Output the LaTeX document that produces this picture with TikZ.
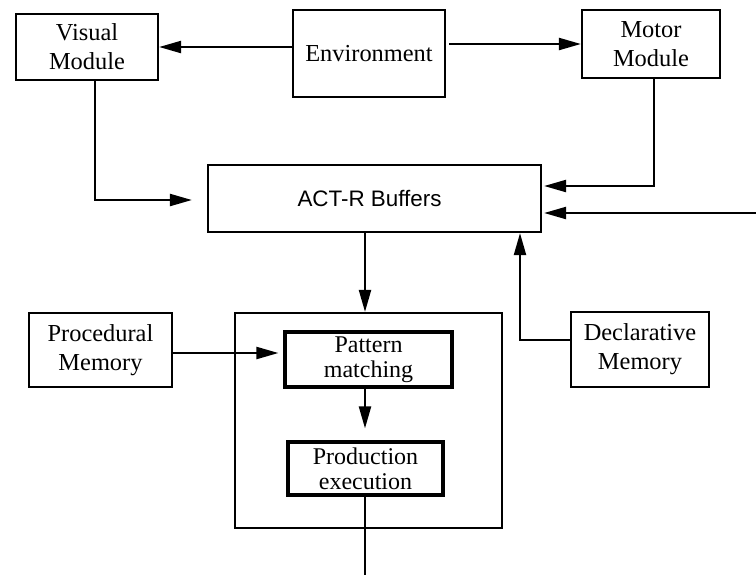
\documentclass[tikz,border=0pt]{standalone}
\usepackage{fontspec}
\setmainfont{Liberation Serif}
\setsansfont{Liberation Sans}
\usetikzlibrary{arrows.meta}
\begin{document}
\begin{tikzpicture}[x=0.5pt,y=-0.5pt,
  box/.style={draw,line width=1.1pt,inner sep=0pt,align=center,
    font=\fontsize{12.2}{14.5}\selectfont},
  inbox/.style={box,line width=1.6pt,font=\fontsize{12}{12.5}\selectfont},
  arr/.style={line width=1.1pt,-{Triangle[length=11pt,width=6pt]}},
  ln/.style={line width=1.1pt}]
\useasboundingbox (0,0) rectangle (756,575);
\fill[white] (0,0) rectangle (756,575);

% top row
\node[box,minimum width=71pt,minimum height=33pt] (vis) at (87,47) {Visual\\Module};
\node[box,minimum width=76pt,minimum height=43.5pt] (env) at (369,53.5) {Environment};
\node[box,minimum width=69pt,minimum height=34pt] (mot) at (651,44) {Motor\\Module};

% buffers
\node[box,minimum width=166.5pt,minimum height=33.5pt,
  font=\sffamily\fontsize{11.2}{13}\selectfont] (buf) at (374.5,198.5) {ACT-R Buffers\hspace*{5pt}};

% production system
\node[draw,line width=1.1pt,minimum width=133.5pt,minimum height=107.5pt,inner sep=0pt] (big) at (368.5,420.5) {};
\node[inbox,minimum width=83.5pt,minimum height=27.5pt] (pat) at (368.5,359.5) {Pattern\\matching};
\node[inbox,minimum width=77.5pt,minimum height=26.5pt] (prod) at (365.5,468.5) {Production\\execution};

% memories
\node[box,minimum width=71.5pt,minimum height=37pt] (proc) at (100.5,350) {Procedural\\Memory};
\node[box,minimum width=69pt,minimum height=37.5pt] (decl) at (640,349.5) {Declarative\\Memory};

% helper points
\coordinate (ax) at (365,0);
\coordinate (ext) at (756,213);
\coordinate (bot) at (365,575);

% connectors
\draw[arr] (env.west |- vis.east) -- (vis.east);
\draw[arr] ([xshift=1.5pt]env.east |- mot.west) -- (mot.west);
\draw[arr,shorten >=7.5pt] ([xshift=4pt]vis.south) |- (buf.west |- 0,200);
\draw[arr] ([xshift=1.5pt]mot.south) |- ([yshift=6.25pt,xshift=1pt]buf.east);
\draw[arr] (ext) -- ([xshift=1pt]buf.east |- ext);
\draw[arr] (buf.south -| ax) -- (big.north -| ax);
\draw[arr,shorten >=2.5pt] (proc.east |- 0,353) -- (pat.west |- 0,353);
\draw[arr,shorten >=6pt] (pat.south -| ax) -- (prod.north -| ax);
\draw[ln] (prod.south -| ax) -- (bot);
\draw[arr] ([yshift=4.75pt]decl.west) -| ([xshift=72.75pt]buf.south);
\end{tikzpicture}
\end{document}
